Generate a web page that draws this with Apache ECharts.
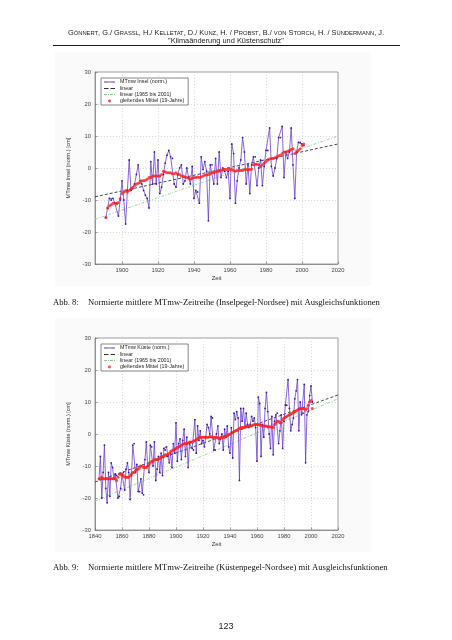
<!DOCTYPE html>
<html><head><meta charset="utf-8">
<script src="https://cdn.jsdelivr.net/npm/echarts@6/dist/echarts.min.js"></script>
<style>html,body{margin:0;padding:0;background:#fff}#c{width:452px;height:640px}</style>
</head><body><div id="c"></div>
<script>
// ---------- data ----------
const inselStart = 1891;
const inselValues = [
 -15.5,-12.5,-9.5,-10,-9.5,-11,-11,-15,-10,
 -4,-10,-17.5,-7,2.5,-7,-6.5,-5,-2,1,
 -4,-5,-7,-8.5,-9.5,-12.5,2,-5,5,-5,
 2.5,-8,-6,-2,1.5,4,5.5,3.5,3,-5,
 -6,-2,0,1,-5,-4,0,-3,-5,0.5,
 -9.5,-7,-7.5,-11,3.5,-0.5,2,-1,-16.5,1,
 1,-5,3,-5,5,-3,0,-1,-3,-1,
 -9.5,7.5,4.5,-11,-4,0,2.5,9.5,5,-5,
 1,-8,1,3.5,3.5,-5.5,0,2.5,-5.5,0.5,
 5.5,5.5,12.5,0.5,-2.5,0,3,9.5,9.5,13,
 -3,5,3,5,12.5,1,-9.5,5,8,8,
 7.5,7
];
const inselMean = [
 -15.5,-12.5,-11.8,-11.5,-11,-11,-11.2,-10.8,-9.5,
 -8,-7.5,-7.2,-7.5,-7,-6.5,-6,-5.5,-5,-4.8,
 -4.5,-4,-4,-3.8,-3.5,-3,-3,-2.5,-2.5,-2.5,
 -2.5,-2.5,-2,-1,-1.2,-1.5,-1.5,-1.5,-1.8,-1.8,
 -1.5,-2,-2,-2.5,-2.5,-2.8,-3,-3.2,-3.5,-3.2,
 -3,-3,-2.8,-3,-2.8,-2.5,-2.2,-2.2,-2,-1.8,
 -1.5,-1.5,-1.2,-1,-1,-0.8,-0.5,-0.5,-0.5,-0.3,
 -0.5,-0.5,-0.8,-1,-0.8,-0.8,-0.8,-0.8,-0.5,-0.5,
 -0.5,-0.5,-0.3,1,1.2,1.2,1,0.5,1,1.5,
 2,2.5,2.8,3,3,3.2,3.5,3.8,4,4.5,
 5,5,5.2,5.5,5.8,6,4.5,5,5.5,6,
 7,7.5
];
const inselLinX = [1885, 2020];
const inselLinY = [-9, 7.5];
const inselLin65Y = [-16, 10];

const kuesteStart = 1843;
const kuesteValues = [
 -14,-7,-20,-12,-3.5,-17,-21.5,
 -12,-19.5,-9,-10.5,-14,-12.5,-13,-20,-19.5,-17,
 -12.5,-12,-17.5,-11,-9,-12,-20.5,-13,-3.5,-3,
 -12,-9.5,-18,-18,-14,-18.5,-19,-8,-2.5,-10,
 -12,-3.5,-4,-10,-2.5,-14.5,-11,-7,-12,-6,
 -13,-4.5,-5,-4,-7,-9,-6,-10.5,-3,-6,
 3.5,-8.5,-3,-1.5,-8,-2,1.5,-7,-1,-10.5,
 -3,-2.5,-4.5,-5,4.5,-6,2.5,-2,1,-3,
 -2,-4,-1,3,2,0,5.5,5,-5,-5,
 0,2.5,-3,-1.5,0,-5,1.5,-1,2.5,-4,
 -6,2,-7.5,6.5,4.5,7,5,-14.5,8,4,
 8,2,6.5,3,2,3,5.5,4,5,2,
 -8.5,11.5,9.5,-7,3,-1,8,13,7,0,
 -4.5,5.5,-6.5,4,6,6.5,-3,1,6,-4.5,
 4,9,9,17,8,1,3,5,11,13.5,
 17,1,10,6,6.5,15.5,-9,6,7,12,
 15,10
];
const kuesteMean = [
 -14,-14,-13.5,-14,-14,-14,-14,
 -14,-14,-14,-14,-14,-14,-14.5,-13.5,-12.5,-12.5,
 -13,-13,-13.5,-13.5,-13.5,-13.5,-13,-12.5,-12,-12,
 -11.5,-11,-11,-10.5,-10,-10,-10.5,-10.5,-10.5,-10,
 -9.5,-9,-8.5,-8.5,-8,-8,-8,-7.8,-7.5,-7.2,
 -7,-7,-6.5,-6.5,-6.5,-6,-5.5,-5.2,-5,-4.8,
 -4.5,-4.2,-4,-3.8,-3.5,-3.2,-3,-3,-3,-2.8,
 -2.5,-2.5,-2.5,-2.2,-2,-1.8,-1.5,-1.2,-1,-1,
 -1,-1,-1,-1,-1,-0.8,-0.8,-1,-1,-1,
 -1,-1.2,-1.5,-1.2,-1,-1,-1,-0.8,-0.5,-0.2,
 0,0.2,0.5,0.8,1,1.2,1.5,1.8,2,2,
 2,2.2,2.5,2.5,2.5,2.5,2.5,2.8,3,3,
 3,3,2.8,2.8,2.5,2.5,2.5,2.5,2.3,2.3,
 2.2,2.2,2,3,3.5,4,4,3.5,3.5,4.5,
 5,5.2,5.5,5.8,6,6.2,6.5,6.8,7,7.2,
 7.5,7.8,8,8,8,8,7.5,8,9,10,
 10.5,8
];
const kuesteLinX = [1840, 2020];
const kuesteLinY = [-15, 12.2];
const kuesteLin65Y = [-21, 11];

const xTicks1 = [1900, 1920, 1940, 1960, 1980, 2000, 2020];
const xTicks2 = [1840, 1860, 1880, 1900, 1920, 1940, 1960, 1980, 2000, 2020];

const nameSeries1 = 'MTmw Insel (norm.)';
const nameSeries2 = 'MTmw Küste (norm.)';
const nameLin = 'linear';
const nameLin65 = 'linear (1965 bis 2001)';
const nameMean = 'gleitendes Mittel (19-Jahre)';

const headerAuthors = 'Gönnert, G./ Grassl, H./ Kelletat, D./ Kunz, H. / Probst, B./ von Storch, H. / Sündermann, J.';
const headerTitle = '"Klimaänderung und Küstenschutz"';
const caption1 = ['Abb. 8:', 'Normierte mittlere MTmw-Zeitreihe (Inselpegel-Nordsee) mit Ausgleichsfunktionen'];
const caption2 = ['Abb. 9:', 'Normierte mittlere MTmw-Zeitreihe (Küstenpegel-Nordsee) mit Ausgleichsfunktionen'];
const pageNumber = '123';

// ---------- helpers ----------
function pairs(start, vals) { return vals.map((v, i) => [start + i, v]); }
function zip(xs, ys) { return xs.map((x, i) => [x, ys[i]]); }
function smallCaps(s) {
  let out = '', i = 0;
  while (i < s.length) {
    const low = s[i] !== s[i].toUpperCase();
    let j = i;
    while (j < s.length && ((s[j] !== s[j].toUpperCase()) === low)) j++;
    const seg = s.slice(i, j);
    out += low ? '{s|' + seg.toUpperCase() + '}' : '{b|' + seg + '}';
    i = j;
  }
  return out;
}

const FONT = 'Liberation Sans, Arial, sans-serif';
const SERIF = 'Liberation Serif, Times New Roman, serif';
const gridLine = { show: true, lineStyle: { color: '#c8c8c8', type: [1, 2], width: 0.7 } };
const axisLbl = { color: '#444', fontSize: 5.8, fontFamily: FONT };

function xAxisCfg(idx, min, ticks) {
  return {
    type: 'value', gridIndex: idx, min: min, max: 2020,
    name: 'Zeit', nameLocation: 'middle', nameGap: 11,
    nameTextStyle: { fontSize: 5.8, color: '#333', fontFamily: FONT },
    axisLine: { show: true, onZero: false, lineStyle: { color: '#777', width: 0.7 } },
    axisTick: { show: true, inside: true, length: 2.5, customValues: ticks, lineStyle: { color: '#777', width: 0.7 } },
    axisLabel: Object.assign({ customValues: ticks, margin: 3, showMinLabel: true, showMaxLabel: true,
      formatter: v => String(v) }, axisLbl),
    splitLine: Object.assign({ customValues: ticks }, gridLine)
  };
}
function yAxisCfg(idx, name) {
  return {
    type: 'value', gridIndex: idx, min: -30, max: 30, interval: 10,
    name: name, nameLocation: 'middle', nameGap: 13, nameRotate: 90,
    nameTextStyle: { fontSize: 5.5, color: '#333', fontFamily: FONT },
    axisLine: { show: true, lineStyle: { color: '#777', width: 0.7 } },
    axisTick: { show: true, inside: true, length: 2.5, lineStyle: { color: '#777', width: 0.7 } },
    axisLabel: Object.assign({ margin: 4 }, axisLbl),
    splitLine: gridLine
  };
}
const ICON_LINE = 'path://M0,0H0.02V0.02H0ZM11,6H11.02V6.02H11ZM0,2.6H11V3.4H0ZM4.5,3A1,1 0 1,0 6.5,3A1,1 0 1,0 4.5,3Z';
const ICON_DASH = 'path://M0,0H3.5V0.9H0ZM5,0H8.5V0.9H5Z';
const ICON_DOT = 'path://M0,0H2.2V0.9H0ZM3,0H3.8V0.9H3ZM4.6,0H6.8V0.9H4.6ZM7.6,0H8.4V0.9H7.6Z';
const ICON_MEAN = 'path://M0,0H0.02V0.02H0ZM11,6H11.02V6.02H11ZM4,3A1.5,1.5 0 1,0 7,3A1.5,1.5 0 1,0 4,3Z';
function legendCfg(top, first) {
  return {
    orient: 'vertical', left: 101, top: top, itemGap: 1, itemWidth: 11, itemHeight: 6,
    data: [
      { name: first, icon: ICON_LINE, itemStyle: { color: '#5a30c0' } },
      { name: nameLin, icon: ICON_DASH },
      { name: nameLin65, icon: ICON_DOT },
      { name: nameMean, icon: ICON_MEAN }
    ],
    textStyle: { fontSize: 5.3, color: '#222', fontFamily: FONT },
    padding: [1, 4, 1, 3], borderColor: '#555', borderWidth: 0.7, backgroundColor: '#fff',
    selectedMode: false
  };
}
function seriesFor(idx, name, start, vals, means, linX, linY, lin65Y) {
  return [
    { type: 'line', name: nameLin65, xAxisIndex: idx, yAxisIndex: idx, data: zip(linX, lin65Y),
      showSymbol: false, symbol: 'none', lineStyle: { color: '#9ccf9c', width: 0.9, type: [3, 1.5, 1, 1.5] }, itemStyle: { color: '#8cc48c' }, z: 2 },
    { type: 'line', name: nameLin, xAxisIndex: idx, yAxisIndex: idx, data: zip(linX, linY),
      showSymbol: false, symbol: 'none', lineStyle: { color: '#333', width: 0.9, type: [3, 2] }, itemStyle: { color: '#333' }, z: 3 },
    { type: 'line', name: name, xAxisIndex: idx, yAxisIndex: idx, data: pairs(start, vals),
      symbol: 'circle', symbolSize: 1.8, showSymbol: true,
      lineStyle: { color: '#6b3fd0', width: 0.8 }, itemStyle: { color: '#3d1b96' }, z: 4 },
    { type: 'scatter', name: nameMean, xAxisIndex: idx, yAxisIndex: idx, data: pairs(start, means),
      symbol: 'circle', symbolSize: 3, itemStyle: { color: '#ff1e1e' }, z: 5 }
  ];
}

const chart = echarts.init(document.getElementById('c'), null, { renderer: 'canvas' });
chart.setOption({
  animation: false,
  backgroundColor: '#fff',
  grid: [
    { left: 95, top: 72, width: 243, height: 192, show: true, backgroundColor: '#fff', borderColor: '#777', borderWidth: 0.7 },
    { left: 95, top: 338, width: 243, height: 192, show: true, backgroundColor: '#fff', borderColor: '#777', borderWidth: 0.7 }
  ],
  xAxis: [xAxisCfg(0, 1885, xTicks1), xAxisCfg(1, 1840, xTicks2)],
  yAxis: [yAxisCfg(0, 'MTmw Insel (norm.) [cm]'), yAxisCfg(1, 'MTmw Küste (norm.) [cm]')],
  legend: [legendCfg(78, nameSeries1), legendCfg(344, nameSeries2)],
  series: [].concat(
    seriesFor(0, nameSeries1, inselStart, inselValues, inselMean, inselLinX, inselLinY, inselLin65Y),
    seriesFor(1, nameSeries2, kuesteStart, kuesteValues, kuesteMean, kuesteLinX, kuesteLinY, kuesteLin65Y)
  ),
  graphic: [
    { type: 'rect', z: -10, silent: true, shape: { x: 55, y: 52, width: 316, height: 234 }, style: { fill: '#fafafa' } },
    { type: 'rect', z: -10, silent: true, shape: { x: 55, y: 318, width: 316, height: 234 }, style: { fill: '#fafafa' } },
    { type: 'text', x: 226, y: 33, silent: true, style: {
        text: smallCaps(headerAuthors), align: 'center', verticalAlign: 'middle', fill: '#222',
        fontFamily: FONT,
        rich: { b: { fontSize: 7.4, fontFamily: FONT, fill: '#222' }, s: { fontSize: 5.8, fontFamily: FONT, fill: '#222' } } } },
    { type: 'text', x: 226, y: 41, silent: true, style: {
        text: headerTitle, align: 'center', verticalAlign: 'middle', fill: '#222', fontSize: 7.4, fontFamily: FONT } },
    { type: 'line', silent: true, shape: { x1: 53, y1: 45.5, x2: 400, y2: 45.5 }, style: { stroke: '#000', lineWidth: 0.9 } },
    { type: 'text', x: 53, y: 303, silent: true, style: { text: caption1[0], verticalAlign: 'middle', fill: '#111', fontSize: 8.6, fontFamily: SERIF } },
    { type: 'text', x: 88, y: 303, silent: true, style: { text: caption1[1], verticalAlign: 'middle', fill: '#111', fontSize: 8.6, fontFamily: SERIF } },
    { type: 'text', x: 53, y: 568, silent: true, style: { text: caption2[0], verticalAlign: 'middle', fill: '#111', fontSize: 8.6, fontFamily: SERIF } },
    { type: 'text', x: 88, y: 568, silent: true, style: { text: caption2[1], verticalAlign: 'middle', fill: '#111', fontSize: 8.6, fontFamily: SERIF } },
    { type: 'text', x: 226, y: 627, silent: true, style: { text: pageNumber, align: 'center', verticalAlign: 'middle', fill: '#222', fontSize: 9, fontFamily: FONT } }
  ]
});
</script>
</body></html>
